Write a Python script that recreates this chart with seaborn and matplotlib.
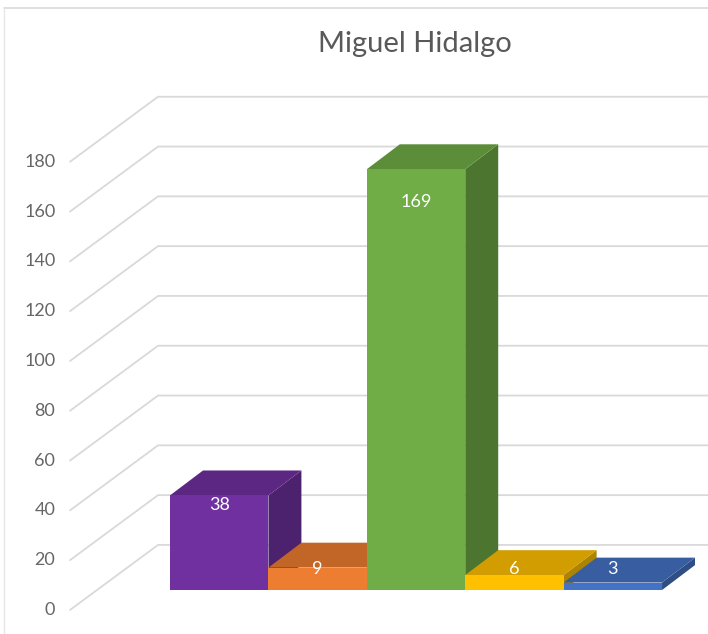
import matplotlib
matplotlib.use("Agg")
import matplotlib.pyplot as plt
import matplotlib.colors as mcolors
from matplotlib.patches import Polygon
import seaborn as sns

# Data
categories = ["Cat 1", "Cat 2", "Cat 3", "Cat 4", "Cat 5"]
values = [38, 9, 169, 6, 3]
colors = ["#7030A0", "#ED7D31", "#70AD47", "#FFC000", "#4472C4"]
ticks = [0, 20, 40, 60, 80, 100, 120, 140, 160, 180]
title = "Miguel Hidalgo"

sns.set_theme(style="white")
plt.rcParams["font.family"] = ["Lato", "DejaVu Sans"]

fig = plt.figure(figsize=(7.08, 6.34), dpi=100)
ax = fig.add_axes([0, 0, 1, 1])

# 3D-ish offsets (data units)
bar_dx, bar_dy = 0.335, 10.0
wall_front = (-1.516, -8.0)
wall_back = (-0.622, 18.1)


def shade(c, f):
    r, g, b = mcolors.to_rgb(c)
    return (r * f, g * f, b * f)


# Gridlines: left side wall + back wall
for t in ticks:
    ax.plot([wall_front[0], wall_back[0], 6], [t + wall_front[1], t + wall_back[1], t + wall_back[1]],
            color="#d9d9d9", lw=1.3, zorder=0, solid_joinstyle="miter")
    ax.text(wall_front[0] - 0.15, t + wall_front[1], str(t), ha="right", va="center",
            fontsize=13, color="#666666")

# Front faces
sns.barplot(x=categories, y=values, hue=categories, palette=colors, width=1.0,
            saturation=1, legend=False, linewidth=0, ax=ax, zorder=3)

# Top and side faces
for i, (v, c) in enumerate(zip(values, colors)):
    x0, x1 = i - 0.5, i + 0.5
    side = Polygon([(x1, 0), (x1 + bar_dx, bar_dy), (x1 + bar_dx, v + bar_dy), (x1, v)],
                   closed=True, facecolor=shade(c, 0.68), edgecolor="none", zorder=2 + 0.01 * i)
    top = Polygon([(x0, v), (x1, v), (x1 + bar_dx, v + bar_dy), (x0 + bar_dx, v + bar_dy)],
                  closed=True, facecolor=shade(c, 0.82), edgecolor="none", zorder=2 + 0.01 * i + 0.005)
    ax.add_patch(side)
    ax.add_patch(top)
    ax.text(i, max(0.93 * v - 1.3, 8.5), str(v), ha="center", va="center",
            fontsize=13, color="white", zorder=5)

ax.set_xlim(-2.228, 4.967)
ax.set_ylim(-17.67, 236.95)
ax.axis("off")

fig.text(415 / 708, 1 - 44 / 634, title, ha="center", va="center", fontsize=21, color="#595959")

# chart area border (top and left)
fig.add_artist(plt.Line2D([4 / 708, 1], [1 - 8 / 634, 1 - 8 / 634], color="#d9d9d9", lw=1.2))
fig.add_artist(plt.Line2D([4 / 708, 4 / 708], [0, 1 - 8 / 634], color="#e6e6e6", lw=1.0))

fig.savefig("out.png", dpi=100)
